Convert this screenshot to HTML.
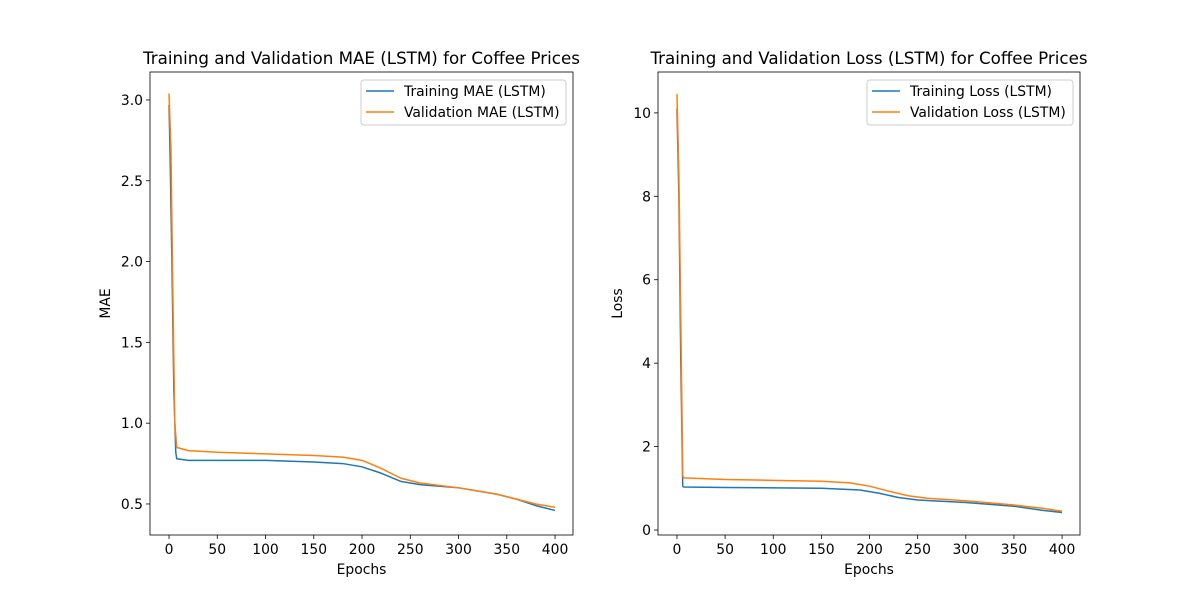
<!DOCTYPE html>
<html><head><meta charset="utf-8"><style>
body{margin:0;background:#fff;font-family:"DejaVu Sans","Liberation Sans",sans-serif}
svg text{font-family:"DejaVu Sans","Liberation Sans",sans-serif;fill:#000}
</style></head><body>
<svg id="c" width="1200" height="600" xmlns="http://www.w3.org/2000/svg"></svg>
<script>
const maeEpochs=[0,1,3,5,7,8,20,50,100,150,180,200,220,240,260,300,340,360,380,400];
const maeTrain=[2.97,2.7,2.0,1.2,0.82,0.78,0.77,0.77,0.77,0.76,0.75,0.73,0.69,0.64,0.62,0.60,0.56,0.53,0.49,0.46];
const maeValEpochs=[0,2,4,6,8,20,50,100,150,180,200,220,240,260,300,340,360,380,400];
const maeVal=[3.04,2.7,1.8,1.0,0.85,0.83,0.82,0.81,0.80,0.79,0.77,0.72,0.66,0.63,0.60,0.56,0.53,0.50,0.48];
const lossEpochs=[0,2,4,6,7,50,150,190,210,230,250,300,350,380,400];
const lossTrain=[10.1,8,4,1.05,1.03,1.02,1.0,0.96,0.88,0.78,0.72,0.66,0.57,0.47,0.42];
const lossValEpochs=[0,2,4,6,7,50,100,150,180,200,220,240,260,300,350,380,400];
const lossVal=[10.45,8.5,5,1.3,1.25,1.21,1.19,1.17,1.13,1.05,0.93,0.82,0.76,0.70,0.60,0.52,0.45];
const xTicks=[0,50,100,150,200,250,300,350,400];
const maeTicks=[0.5,1.0,1.5,2.0,2.5,3.0];
const lossTicks=[0,2,4,6,8,10];

const svg=document.getElementById('c');
const NS='http://www.w3.org/2000/svg';
function mk(t,a,p){const e=document.createElementNS(NS,t);for(const k in a)e.setAttribute(k,a[k]);(p||svg).appendChild(e);return e;}

function panel(o){
  const g=mk('g',{});
  
  
  const X=v=>o.x0+(v-o.xmin)/(o.xmax-o.xmin)*(o.x1-o.x0);
  const Y=v=>o.y1-(v-o.ymin)/(o.ymax-o.ymin)*(o.y1-o.y0);
  xTicks.forEach(t=>{const x=X(t);
    const l=mk('line',{x1:x,x2:x,y1:o.y1,y2:o.y1+4,stroke:'#000','stroke-width':0.8},g);
    
    const tx=mk('text',{x:x,y:o.y1+19,'text-anchor':'middle','font-size':13.9},g);tx.textContent=t;
    });
  o.yticks.forEach(t=>{const y=Y(t);
    const l=mk('line',{x1:o.x0-4,x2:o.x0,y1:y,y2:y,stroke:'#000','stroke-width':0.8},g);
    
    const tx=mk('text',{x:o.x0-7,y:y+5,'text-anchor':'end','font-size':13.9},g);tx.textContent=o.fmt(t);
    });
  o.series.forEach(s=>{
    const p=mk('polyline',{points:s.e.map((e,i)=>X(e)+','+Y(s.v[i])).join(' '),fill:'none',stroke:s.c,'stroke-width':1.5,'stroke-linejoin':'round'},g);
    });
  const fr=mk('rect',{x:o.x0,y:o.y0,width:o.x1-o.x0,height:o.y1-o.y0,fill:'none',stroke:'#000','stroke-width':0.8},g);
  
  const ti=mk('text',{x:(o.x0+o.x1)/2,y:o.y0-8,'text-anchor':'middle','font-size':16.7},g);ti.textContent=o.title;
  
  const xl=mk('text',{x:(o.x0+o.x1)/2,y:574,'text-anchor':'middle','font-size':13.9},g);xl.textContent='Epochs';
  
  const yl=mk('text',{x:0,y:0,'text-anchor':'middle','font-size':13.9,transform:`translate(${o.ylx},${(o.y0+o.y1)/2}) rotate(-90)`},g);yl.textContent=o.ylabel;
  
  const lg=mk('g',{},g);
  const lx=o.legX;
  mk('rect',{x:lx,y:80,width:o.x1-7-lx,height:45,rx:3,fill:'#fff',stroke:'#ccc','stroke-width':1},lg);
  o.series.forEach((s,i)=>{const y=91+i*21;
    const le=mk('g',{},lg);
    mk('line',{x1:lx+5,x2:lx+33,y1:y,y2:y,stroke:s.c,'stroke-width':1.5},le);
    const t=mk('text',{x:lx+43,y:y+5,'font-size':13.9},le);t.textContent=s.label;});
}
panel({name:'mae-panel',x0:150,x1:573,y0:72,y1:535,xmin:-19.7,xmax:418.6,ymin:0.308,ymax:3.173,
 yticks:maeTicks,fmt:t=>t.toFixed(1),title:'Training and Validation MAE (LSTM) for Coffee Prices',ylabel:'MAE',ylx:110,legX:361,
 series:[{e:maeEpochs,v:maeTrain,c:'#1f77b4',n:'training-mae-line',label:'Training MAE (LSTM)'},
         {e:maeValEpochs,v:maeVal,c:'#ff7f0e',n:'validation-mae-line',label:'Validation MAE (LSTM)'}]});
panel({name:'loss-panel',x0:658,x1:1080,y0:72,y1:535,xmin:-19.7,xmax:418.6,ymin:-0.12,ymax:10.98,
 yticks:lossTicks,fmt:t=>String(t),title:'Training and Validation Loss (LSTM) for Coffee Prices',ylabel:'Loss',ylx:622,legX:867,
 series:[{e:lossEpochs,v:lossTrain,c:'#1f77b4',n:'training-loss-line',label:'Training Loss (LSTM)'},
         {e:lossValEpochs,v:lossVal,c:'#ff7f0e',n:'validation-loss-line',label:'Validation Loss (LSTM)'}]});
</script>
</body></html>
